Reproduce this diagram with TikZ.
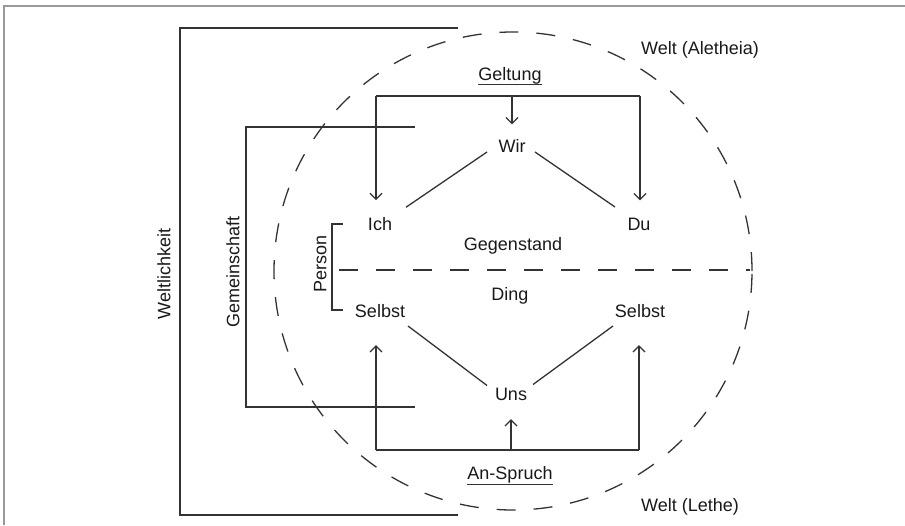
\documentclass[tikz,border=0pt]{standalone}
\usepackage{fontspec}
\setmainfont{Liberation Sans}
\usetikzlibrary{arrows.meta,calc}

\tikzset{
	lbl/.style={font=\fontsize{18}{21}\selectfont, text=black!90, inner sep=0pt, text height=12.8pt, text depth=0pt},
	ln/.style={draw=black!80, line width=1.3pt},
	arr/.style={ln, -{Straight Barb[length=6pt,width=12pt]}},
	dashline/.style={ln, dash pattern=on 19pt off 18pt},
}

\begin{document}
\begin{tikzpicture}[x=1pt, y=-1pt]
	\useasboundingbox (0,0) rectangle (905,525);
	\draw[black!40, line width=1.5pt] (4,525) -- (4,6) -- (905,6);
	% Welt
	\draw[dashline] (513,271) circle [radius=239pt];
	\draw[dashline] (339,270) -- (750,270);
	\node[lbl, anchor=west] (aletheia) at (641,48.5) {Welt (Aletheia)};
	\node[lbl, anchor=west] (lethe) at (641,505.5) {Welt (Lethe)};
	% brackets
	\draw[ln] (458,28) -| (180,515) -- (458,515);
	\draw[ln] (415,127) -| (246,407) -- (415,407);
	\draw[ln] (343,224) -| (332,310) -- (343,310);
	\node[lbl, rotate=90] (weltl) at (164,274) {Weltlichkeit};
	\node[lbl, rotate=90] (gemein) at (233,272) {Gemeinschaft};
	\node[lbl, rotate=90] (person) at (320,264) {Person};
	% terms
	\node[lbl] (geltung) at (510,74.5) {Geltung};
	\node[lbl] (wir) at (512,146) {Wir};
	\node[lbl] (ich) at (380,223.75) {Ich};
	\node[lbl] (du) at (639,224) {Du};
	\node[lbl] (gegen) at (513,244.5) {Gegenstand};
	\node[lbl] (ding) at (510,294.5) {Ding};
	\node[lbl] (selbstl) at (380,311.5) {Selbst};
	\node[lbl] (selbstr) at (640,311.5) {Selbst};
	\node[lbl] (uns) at (511,394.5) {Uns};
	\node[lbl] (anspruch) at (510,473.5) {An-Spruch};
	\draw[ln, line width=1pt] ([yshift=-3pt]geltung.south west) -- ([yshift=-3pt]geltung.south east);
	\draw[ln, line width=1pt] ([yshift=-4pt]anspruch.south west) -- ([yshift=-4pt]anspruch.south east);
	% Geltung
	\coordinate (gl) at (376,96);
	\coordinate (gm) at (512,96);
	\coordinate (gr) at (640,96);
	\draw[ln] (gl) -- (gr);
	\draw[arr, shorten >=15pt] (gm) -- (wir.north);
	\draw[arr, shorten >=17pt] (gl) -- (gl |- ich.north);
	\draw[arr, shorten >=17pt] (gr) -- (gr |- du.north);
	% An-Spruch
	\coordinate (al) at (376,450);
	\coordinate (am) at (511,450);
	\coordinate (ar) at (639,450);
	\draw[ln] (al) -- (ar);
	\draw[arr, shorten >=18pt] (am) -- (uns.south);
	\draw[arr, shorten >=27pt] (al) -- (al |- selbstl.south);
	\draw[arr, shorten >=27pt] (ar) -- (ar |- selbstr.south);
	% links
	\draw[ln] ($(wir)+(-25,6)$) -- ($(ich)+(26,-16.5)$);
	\draw[ln] ($(wir)+(23,6)$) -- ($(du)+(-24,-17)$);
	\draw[ln] ($(selbstl)+(28,14.5)$) -- ($(uns)+(-24,-9)$);
	\draw[ln] ($(selbstr)+(-27,14.5)$) -- ($(uns)+(22,-10)$);
\end{tikzpicture}
\end{document}
